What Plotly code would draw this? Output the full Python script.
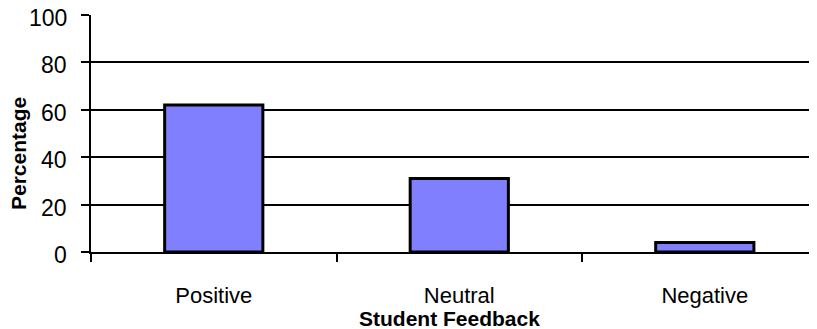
import plotly.graph_objects as go

categories = ["Positive", "Neutral", "Negative"]
percentages = [62, 31, 4]
y_ticks = [0, 20, 40, 60, 80, 100]

font_name = "Liberation Sans, Arial, sans-serif"

# the page body adds an 8px margin, so the figure starts at (8, 8) in the window
OFF = 8
ML, MT, MR, MB = 91 - OFF, 15 - OFF, OFF, 329 - 252 + OFF
W, H = 817, 329

fig = go.Figure(
    go.Bar(
        x=categories,
        y=percentages,
        width=0.4,
        marker=dict(color="#8080ff", line=dict(color="black", width=3)),
    )
)

fig.update_layout(
    width=W,
    height=H,
    margin=dict(l=ML, r=MR, t=MT, b=MB, autoexpand=False),
    paper_bgcolor="white",
    plot_bgcolor="white",
    showlegend=False,
    font=dict(family=font_name, size=22, color="black"),
)


def px_to_paper(px, py):
    x = (px - OFF - ML) / (W - ML - MR)
    y = (H - MB - (py - OFF)) / (H - MB - MT)
    return x, y


x, y = px_to_paper(18, 154)
fig.add_annotation(text="<b>Percentage</b>", x=x, y=y, xref="paper", yref="paper",
                   xanchor="center", yanchor="middle",
                   showarrow=False, textangle=-90, font=dict(size=21))
x, y = px_to_paper(449, 318)
fig.add_annotation(text="<b>Student Feedback</b>", x=x, y=y, xref="paper", yref="paper",
                   xanchor="center", yanchor="middle",
                   showarrow=False, font=dict(size=21))

# y tick labels sit a little below their gridlines in the reference
for v in y_ticks:
    fig.add_annotation(text=str(v), x=0, y=v, xref="paper", yref="y",
                       xanchor="right", yanchor="middle", xshift=-22, yshift=-3,
                       showarrow=False, font=dict(size=23))

fig.update_xaxes(
    range=[-0.5, 2.457],
    automargin=False,
    showline=True,
    linecolor="black",
    linewidth=2,
    ticks="outside",
    tickson="boundaries",
    ticklen=8,
    tickwidth=2,
    tickcolor="black",
    showgrid=False,
    ticklabelstandoff=23,
    ticklabeloverflow="allow",
    tickfont=dict(size=22),
)
fig.update_yaxes(
    range=[0, 100],
    automargin=False,
    tickvals=y_ticks,
    showticklabels=False,
    showline=True,
    linecolor="black",
    linewidth=2,
    ticks="outside",
    ticklen=8,
    tickwidth=2,
    tickcolor="black",
    showgrid=True,
    gridcolor="black",
    gridwidth=2,
    zeroline=False,
)

fig.write_html("out.html")
